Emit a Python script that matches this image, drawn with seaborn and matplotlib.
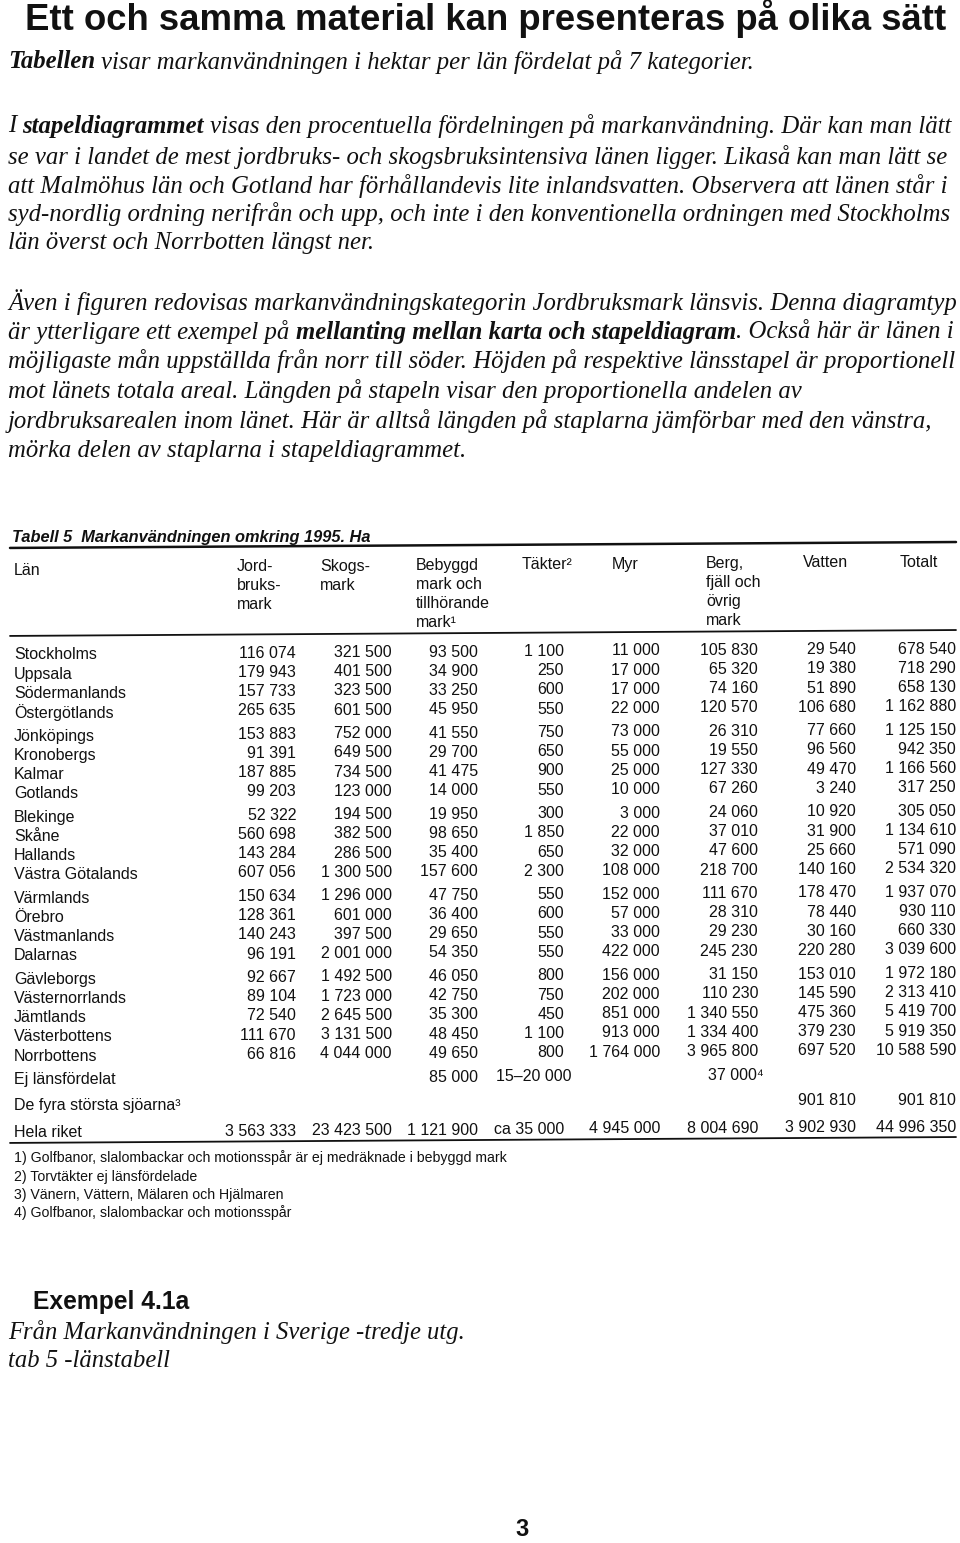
import numpy as np
import pandas as pd
import seaborn as sns
import matplotlib.pyplot as plt

# --- tabelldata (hektar) ---
lan = ["Stockholms", "Uppsala", "Södermanlands", "Östergötlands",
       "Jönköpings", "Kronobergs", "Kalmar", "Gotlands",
       "Blekinge", "Skåne", "Hallands", "Västra Götalands",
       "Värmlands", "Örebro", "Västmanlands", "Dalarnas",
       "Gävleborgs", "Västernorrlands", "Jämtlands", "Västerbottens", "Norrbottens"]
grupp = [0] * 4 + [1] * 4 + [2] * 4 + [3] * 4 + [4] * 5

jordbruksmark = [116074, 179943, 157733, 265635, 153883, 91391, 187885, 99203,
                 52322, 560698, 143284, 607056, 150634, 128361, 140243, 96191,
                 92667, 89104, 72540, 111670, 66816]
skogsmark = [321500, 401500, 323500, 601500, 752000, 649500, 734500, 123000,
             194500, 382500, 286500, 1300500, 1296000, 601000, 397500, 2001000,
             1492500, 1723000, 2645500, 3131500, 4044000]
bebyggd = [93500, 34900, 33250, 45950, 41550, 29700, 41475, 14000,
           19950, 98650, 35400, 157600, 47750, 36400, 29650, 54350,
           46050, 42750, 35300, 48450, 49650]
takter = [1100, 250, 600, 550, 750, 650, 900, 550,
          300, 1850, 650, 2300, 550, 600, 550, 550,
          800, 750, 450, 1100, 800]
myr = [11000, 17000, 17000, 22000, 73000, 55000, 25000, 10000,
       3000, 22000, 32000, 108000, 152000, 57000, 33000, 422000,
       156000, 202000, 851000, 913000, 1764000]
berg = [105830, 65320, 74160, 120570, 26310, 19550, 127330, 67260,
        24060, 37010, 47600, 218700, 111670, 28310, 29230, 245230,
        31150, 110230, 1340550, 1334400, 3965800]
vatten = [29540, 19380, 51890, 106680, 77660, 96560, 49470, 3240,
          10920, 31900, 25660, 140160, 178470, 78440, 30160, 220280,
          153010, 145590, 475360, 379230, 697520]
totalt = [678540, 718290, 658130, 1162880, 1125150, 942350, 1166560, 317250,
          305050, 1134610, 571090, 2534320, 1937070, 930110, 660330, 3039600,
          1972180, 2313410, 5419700, 5919350, 10588590]

rubriker = [["Jord-", "bruks-", "mark"], ["Skogs-", "mark"],
            ["Bebyggd", "mark och", "tillhörande", "mark¹"], ["Täkter²"], ["Myr"],
            ["Berg,", "fjäll och", "övrig", "mark"], ["Vatten"], ["Totalt"]]

ej_lansfordelat = ["", "", 85000, "15–20 000", "", "37 000⁴", "", ""]
fyra_sjoar = ["", "", "", "", "", "", 901810, 901810]
hela_riket = [3563333, 23423500, 1121900, "ca 35 000", 4945000, 8004690, 3902930, 44996350]

fotnoter = ["1) Golfbanor, slalombackar och motionsspår är ej medräknade i bebyggd mark",
            "2) Torvtäkter ej länsfördelade",
            "3) Vänern, Vättern, Mälaren och Hjälmaren",
            "4) Golfbanor, slalombackar och motionsspår"]

# --- brödtext ---
stycke1 = [[("Tabellen", "bold"), (" visar markanvändningen i hektar per län fördelat på 7 kategorier.", "normal")],
           [("I ", "normal"), ("stapeldiagrammet", "bold"),
            (" visas den procentuella fördelningen på markanvändning. Där kan man lätt", "normal")],
           [("se var i landet de mest jordbruks- och skogsbruksintensiva länen ligger. Likaså kan man lätt se", "normal")],
           [("att Malmöhus län och Gotland har förhållandevis lite inlandsvatten. Observera att länen står i", "normal")],
           [("syd-nordlig ordning nerifrån och upp, och inte i den konventionella ordningen med Stockholms", "normal")],
           [("län överst och Norrbotten längst ner.", "normal")]]
stycke2 = [[("Även i figuren redovisas markanvändningskategorin Jordbruksmark länsvis. Denna diagramtyp", "normal")],
           [("är ytterligare ett exempel på ", "normal"), ("mellanting mellan karta och stapeldiagram", "bold"),
            (". Också här är länen i", "normal")],
           [("möjligaste mån uppställda från norr till söder. Höjden på respektive länsstapel är proportionell", "normal")],
           [("mot länets totala areal. Längden på stapeln visar den proportionella andelen av", "normal")],
           [("jordbruksarealen inom länet. Här är alltså längden på staplarna jämförbar med den vänstra,", "normal")],
           [("mörka delen av staplarna i stapeldiagrammet.", "normal")]]

sns.set_theme(style="white")
plt.rcParams["font.family"] = ["Liberation Sans", "DejaVu Sans"]

df = pd.DataFrame({"Län": lan, "grupp": grupp, "Jordbruksmark": jordbruksmark,
                   "Skogsmark": skogsmark, "Bebyggd": bebyggd, "Täkter": takter,
                   "Myr": myr, "Berg": berg, "Vatten": vatten, "Totalt": totalt})
kolumner = ["Jordbruksmark", "Skogsmark", "Bebyggd", "Täkter", "Myr", "Berg", "Vatten", "Totalt"]

fig = plt.figure(figsize=(9.6, 15.43), dpi=100)
ax = fig.add_axes([0, 0, 1, 1])
ax.set_xlim(0, 960)
ax.set_ylim(1543, 0)
ax.axis("off")
renderer = fig.canvas.get_renderer()
SVART = "#111111"
SERIF = ["Liberation Serif", "DejaVu Serif"]
SANS = ["Liberation Sans", "DejaVu Sans"]


def fmt(v):
    if isinstance(v, str):
        return v
    return f"{v:,}".replace(",", " ")


def text_w(s, size, family, style, weight):
    t = ax.text(0, 0, s, fontsize=size, family=family, style=style, weight=weight)
    w = t.get_window_extent(renderer).width
    t.remove()
    return w


def draw_runs(x, y, runs, size, family, style="normal", measure=False):
    sp = text_w("a a", size, family, style, "normal") - text_w("aa", size, family, style, "normal")
    pos = x
    for txt, weight in runs:
        lead = len(txt) - len(txt.lstrip(" "))
        trail = len(txt) - len(txt.rstrip(" "))
        core = txt.strip(" ")
        pos += lead * sp
        if not measure:
            ax.text(pos, y, core, fontsize=size, family=family, style=style,
                    weight=weight, ha="left", va="center", color=SVART)
        pos += text_w(core, size, family, style, weight) + trail * sp
    return pos - x


def fit(runs, family, style, width):
    return 20 * width / draw_runs(0, 0, runs, 20, family, style, measure=True)


def tilt(x, y):
    # skannade tabellen lutar lite
    return y - 6 * x / 960


# rubrik
s_titel = fit([("Ett och samma material kan presenteras på olika sätt", "bold")], SANS, "normal", 920)
draw_runs(25, 19, [("Ett och samma material kan presenteras på olika sätt", "bold")], s_titel, SANS)

# brödtext
s_bod = fit(stycke1[1], SERIF, "italic", 942)
for rad, y in zip(stycke1, [62, 126, 157, 186, 214, 243]):
    draw_runs(8, y, rad, s_bod, SERIF, "italic")
for rad, y in zip(stycke2, [302, 332, 361, 391, 421, 451]):
    draw_runs(8, y, rad, s_bod, SERIF, "italic")

# tabell
s_tab = 11.5
s_tit = fit([("Tabell 5  Markanvändningen omkring 1995. Ha", "bold")], SANS, "italic", 360)
ax.text(12, tilt(12, 538), "Tabell 5  Markanvändningen omkring 1995. Ha", fontsize=s_tit,
        family=SANS, style="italic", weight="bold", ha="left", va="center", color=SVART)

for y0, lw in [(548, 1.8), (636, 1.3), (1143, 1.3)]:
    sns.lineplot(x=[10, 956], y=[tilt(10, y0), tilt(956, y0)], ax=ax, color=SVART, lw=lw)

ax.text(14, tilt(14, 571), "Län", fontsize=s_tab, ha="left", va="center", color=SVART)
rubrik_x = [237, 320, 416, 522, 612, 706, 803, 900]
for x0, rader in zip(rubrik_x, rubriker):
    for k, r in enumerate(rader):
        ax.text(x0, tilt(x0, 568 + 19 * k), r, fontsize=s_tab, ha="left", va="center", color=SVART)

hoger = [296, 392, 478, 564, 660, 758, 856, 956]
for i, row in df.iterrows():
    y = 655 + i * 19.2 + row["grupp"] * 4.3
    ax.text(14, tilt(14, y), row["Län"], fontsize=s_tab, ha="left", va="center", color=SVART)
    for xr, kol in zip(hoger, kolumner):
        ax.text(xr, tilt(xr, y), fmt(row[kol]), fontsize=s_tab, ha="right", va="center", color=SVART)

extra = [("Ej länsfördelat", ej_lansfordelat, 1080),
         ("De fyra största sjöarna³", fyra_sjoar, 1106),
         ("Hela riket", hela_riket, 1133)]
for namn, varden, y in extra:
    ax.text(14, tilt(14, y), namn, fontsize=s_tab, ha="left", va="center", color=SVART)
    for xr, v in zip(hoger, varden):
        if v == "":
            continue
        if v == "15–20 000":
            xr = 571
        if v == "37 000⁴":
            xr = 764
        ax.text(xr, tilt(xr, y), fmt(v), fontsize=s_tab, ha="right", va="center", color=SVART)

s_fot = fit([(fotnoter[0], "normal")], SANS, "normal", 491)
for txt, y in zip(fotnoter, [1158, 1177, 1195, 1213]):
    ax.text(14, tilt(14, y), txt, fontsize=s_fot, ha="left", va="center", color=SVART)

# källa
s_ex = fit([("Exempel 4.1a", "bold")], SANS, "normal", 156)
ax.text(33, 1302, "Exempel 4.1a", fontsize=s_ex, weight="bold", ha="left", va="center", color=SVART)
s_kalla = fit([("Från Markanvändningen i Sverige -tredje utg.", "normal")], SERIF, "italic", 457)
ax.text(8, 1332, "Från Markanvändningen i Sverige -tredje utg.", fontsize=s_kalla,
        family=SERIF, style="italic", ha="left", va="center", color=SVART)
ax.text(8, 1361, "tab 5 -länstabell", fontsize=s_kalla, family=SERIF, style="italic",
        ha="left", va="center", color=SVART)
ax.text(522, 1530, "3", fontsize=17, weight="bold", ha="center", va="center", color=SVART)

plt.savefig("out.png", dpi=100, facecolor="white")
